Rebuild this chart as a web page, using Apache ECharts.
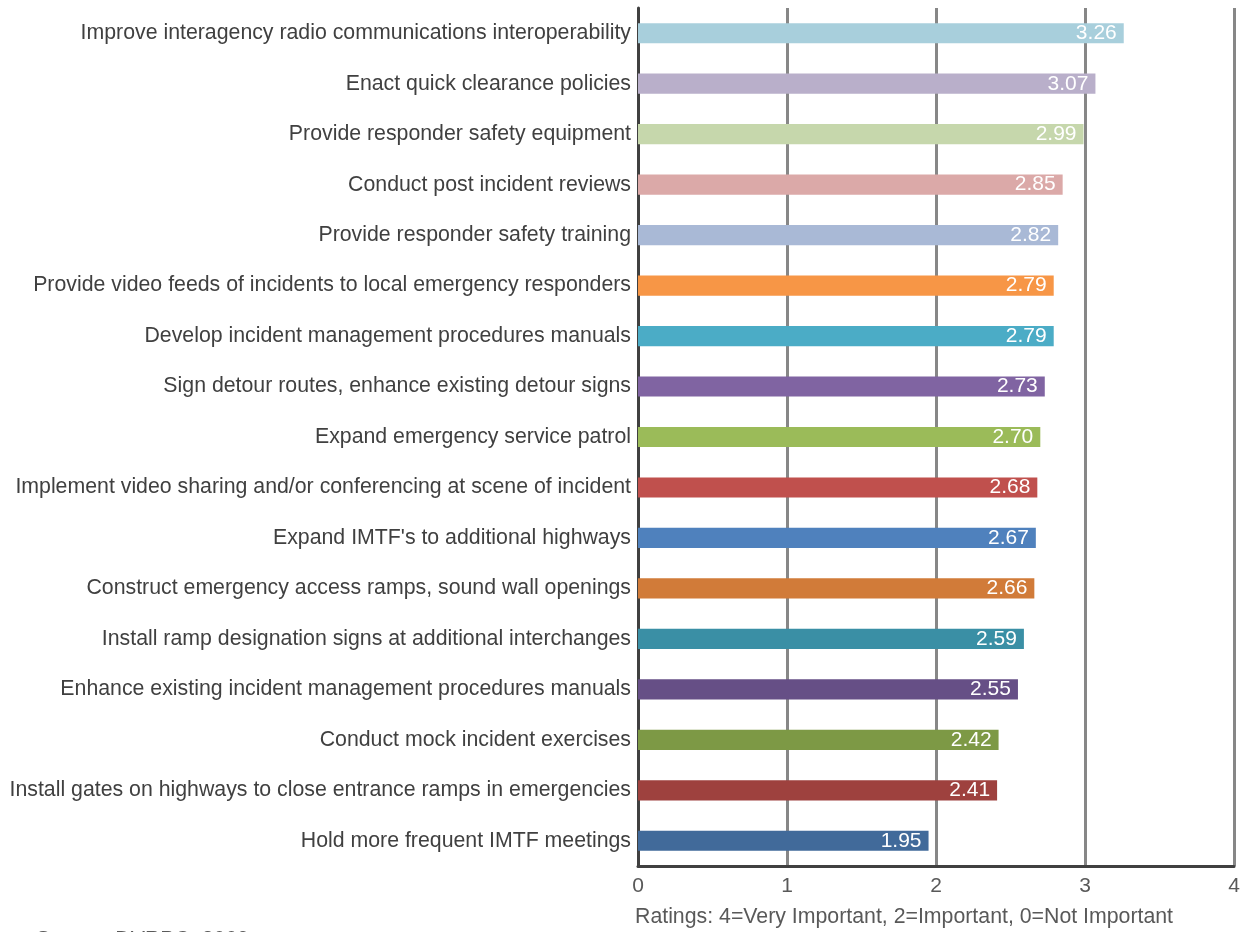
<!DOCTYPE html>
<html>
<head>
<meta charset="utf-8">
<script src="https://cdn.jsdelivr.net/npm/echarts@6/dist/echarts.min.js"></script>
<style>html,body{margin:0;padding:0;background:#fff}#c{width:1252px;height:932px}</style>
</head>
<body>
<div id="c"></div>
<script>
const categories = [
  "Improve interagency radio communications interoperability",
  "Enact quick clearance policies",
  "Provide responder safety equipment",
  "Conduct post incident reviews",
  "Provide responder safety training",
  "Provide video feeds of incidents to local emergency responders",
  "Develop incident management procedures manuals",
  "Sign detour routes, enhance existing detour signs",
  "Expand emergency service patrol",
  "Implement video sharing and/or conferencing at scene of incident",
  "Expand IMTF's to additional highways",
  "Construct emergency access ramps, sound wall openings",
  "Install ramp designation signs at additional interchanges",
  "Enhance existing incident management procedures manuals",
  "Conduct mock incident exercises",
  "Install gates on highways to close entrance ramps in emergencies",
  "Hold more frequent IMTF meetings"
];
const ratings = [3.26, 3.07, 2.99, 2.85, 2.82, 2.79, 2.79, 2.73, 2.70, 2.68, 2.67, 2.66, 2.59, 2.55, 2.42, 2.41, 1.95];
const barColors = ["#A8CFDC","#B9AFCA","#C6D7AC","#DBA9A8","#A9B9D6","#F79646","#4BACC6","#8064A2","#9BBB59","#C0504D","#4F81BD","#D17B39","#3A8FA5","#664F86","#7D9945","#9E413E","#416A9A"];
const axisTitle = "Ratings: 4=Very Important, 2=Important, 0=Not Important";
const sourceNote = "Source: DVRPC, 2009";

const chart = echarts.init(document.getElementById('c'));
chart.setOption({
  animation: false,
  textStyle: { fontFamily: "Liberation Sans, Arial, sans-serif" },
  grid: { left: 638, right: 18, top: 8, bottom: 66, containLabel: false },
  xAxis: {
    type: 'value', min: 0, max: 4, interval: 1,
    axisLine: { show: true, lineStyle: { color: '#404040', width: 3 } },
    axisTick: { show: false },
    axisLabel: { color: '#595959', fontSize: 21, margin: 10 },
    splitLine: { show: true, lineStyle: { color: '#878787', width: 3 } }
  },
  yAxis: {
    type: 'category', data: categories, inverse: true,
    axisLine: { show: true, lineStyle: { color: '#404040', width: 3 } },
    axisTick: { show: false },
    axisLabel: { color: '#404040', fontSize: 21.3, margin: 7 }
  },
  series: [{
    type: 'bar',
    data: ratings.map((v, i) => ({ value: v, itemStyle: { color: barColors[i] } })),
    barWidth: '40%',
    label: {
      show: true, position: 'insideRight', color: '#fff', fontSize: 21,
      formatter: p => p.value.toFixed(2), distance: 7
    }
  }],
  graphic: [
    { type: 'text', left: 635, top: 907, style: { text: axisTitle, fill: '#595959', font: '21.3px Liberation Sans, Arial, sans-serif' } },
    { type: 'text', left: 36, top: 930, style: { text: sourceNote, fill: '#595959', font: '21.3px Liberation Sans, Arial, sans-serif' } }
  ]
});
</script>
</body>
</html>
